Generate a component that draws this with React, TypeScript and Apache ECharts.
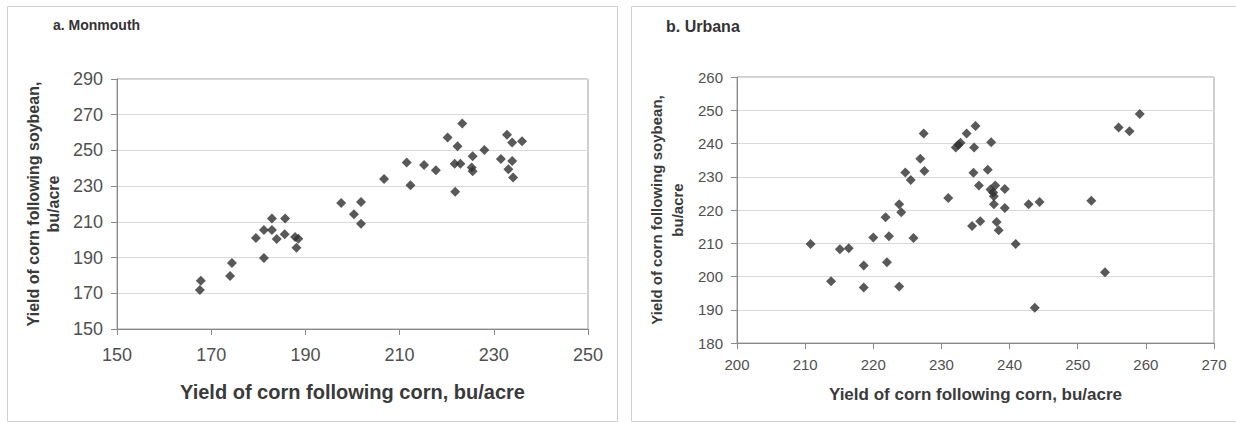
import React, { useEffect, useRef } from "react";
import * as echarts from "echarts";

// a. Monmouth
const monCornCorn = [167.6, 167.8, 174.0, 174.4, 179.5, 181.2, 181.2, 182.9, 182.9, 183.9, 185.6, 185.7, 187.8, 188.5, 188.1, 197.6, 200.3, 201.8, 201.8, 206.7, 211.5, 212.3, 215.2, 217.7, 220.2, 221.8, 221.7, 222.3, 222.9, 223.3, 225.5, 225.3, 225.5, 228.0, 231.5, 232.8, 233.1, 233.9, 233.9, 234.1, 236.0];
const monCornSoy = [171.8, 177.0, 179.7, 187.0, 201.0, 189.8, 205.4, 211.9, 205.4, 200.4, 203.0, 211.9, 201.5, 200.5, 195.5, 220.5, 214.2, 221.1, 209.0, 234.0, 243.2, 230.5, 241.8, 238.9, 257.3, 226.9, 242.5, 252.4, 242.5, 265.1, 246.8, 240.5, 238.3, 250.2, 245.2, 258.8, 239.5, 254.4, 244.1, 234.8, 255.2];

// b. Urbana
const urbCornCorn = [210.8, 213.8, 215.1, 216.4, 218.6, 218.6, 220.0, 221.8, 222.0, 222.3, 223.8, 224.1, 223.8, 224.7, 225.5, 225.9, 226.9, 227.4, 227.5, 231.0, 232.1, 232.5, 232.8, 233.7, 235.0, 234.8, 234.7, 234.5, 235.5, 235.7, 237.3, 236.8, 237.2, 237.6, 237.9, 237.7, 237.7, 238.1, 238.4, 239.3, 239.3, 240.9, 242.8, 244.4, 243.7, 252.0, 254.0, 256.0, 257.6, 259.1];
const urbCornSoy = [209.8, 198.6, 208.2, 208.5, 203.3, 196.7, 211.7, 217.8, 204.3, 212.1, 221.7, 219.3, 197.0, 231.3, 229.0, 211.6, 235.4, 243.0, 231.7, 223.6, 238.8, 239.6, 240.2, 243.0, 245.3, 238.8, 231.2, 215.2, 227.4, 216.6, 240.4, 232.1, 226.2, 225.3, 227.4, 224.1, 221.7, 216.4, 213.9, 226.3, 220.6, 209.8, 221.7, 222.4, 190.6, 222.8, 201.3, 244.8, 243.7, 248.9];

const monXTicks = { min: 150, max: 250, interval: 20 };
const monYTicks = { min: 150, max: 290, interval: 20 };
const urbXTicks = { min: 200, max: 270, interval: 10 };
const urbYTicks = { min: 180, max: 260, interval: 10 };

const panelTitles = ["a. Monmouth", "b. Urbana"];
const xTitle = "Yield of corn following corn, bu/acre";
const yTitle = "Yield of corn following soybean,\nbu/acre";

const FONT = "'Liberation Sans', Arial, Helvetica, sans-serif";

function axisCommon(color: string) {
  return {
    type: "value" as const,
    axisLine: { show: true, onZero: false, lineStyle: { color, width: 1 } },
    axisTick: { show: true, inside: false, length: 6, lineStyle: { color, width: 1 } },
    splitLine: { show: false },
  };
}

export default function App() {
  const ref = useRef<HTMLDivElement>(null);

  useEffect(() => {
    if (!ref.current) return;
    const chart = echarts.init(ref.current, undefined, { renderer: "svg" });
    const option = {
      animation: false,
      backgroundColor: "#ffffff",
      textStyle: { fontFamily: FONT },
      graphic: [
        {
          type: "rect",
          shape: { x: 7.5, y: 6.5, width: 610, height: 415 },
          style: { fill: "none", stroke: "#cfcfcf", lineWidth: 1 },
          silent: true,
        },
        {
          type: "rect",
          shape: { x: 631.5, y: 6.5, width: 620, height: 415 },
          style: { fill: "none", stroke: "#cfcfcf", lineWidth: 1 },
          silent: true,
        },
        {
          type: "text",
          x: 53,
          y: 25,
          style: {
            text: panelTitles[0],
            fontSize: 14,
            fontWeight: "bold",
            fontFamily: FONT,
            fill: "#333",
            verticalAlign: "middle",
          },
        },
        {
          type: "text",
          x: 666,
          y: 26,
          style: {
            text: panelTitles[1],
            fontSize: 16,
            fontWeight: "bold",
            fontFamily: FONT,
            fill: "#333",
            verticalAlign: "middle",
          },
        },
      ],
      grid: [
        {
          left: 117,
          top: 79,
          width: 471,
          height: 250,
          show: true,
          borderColor: "#a0a0a0",
          borderWidth: 1,
          backgroundColor: "#fff",
        },
        {
          left: 737,
          top: 77,
          width: 477,
          height: 266,
          show: true,
          borderColor: "#a0a0a0",
          borderWidth: 1,
          backgroundColor: "#fff",
        },
      ],
      xAxis: [
        {
          ...axisCommon("#8a8a8a"),
          gridIndex: 0,
          ...monXTicks,
          axisLabel: { fontSize: 18, color: "#505050", margin: 17, fontFamily: FONT },
          name: xTitle,
          nameLocation: "middle",
          nameGap: 53,
          nameTextStyle: { fontSize: 20, fontWeight: "bold", color: "#3a3a3a", fontFamily: FONT },
        },
        {
          ...axisCommon("#8a8a8a"),
          gridIndex: 1,
          ...urbXTicks,
          axisLabel: { fontSize: 15, color: "#505050", margin: 14, fontFamily: FONT },
          name: xTitle,
          nameLocation: "middle",
          nameGap: 43,
          nameTextStyle: { fontSize: 17, fontWeight: "bold", color: "#3a3a3a", fontFamily: FONT },
        },
      ],
      yAxis: [
        {
          ...axisCommon("#8a8a8a"),
          gridIndex: 0,
          ...monYTicks,
          splitLine: { show: true, lineStyle: { color: "#d9d9d9", width: 1 } },
          axisLabel: { fontSize: 18, color: "#505050", margin: 14, fontFamily: FONT },
          name: yTitle,
          nameLocation: "middle",
          nameRotate: 90,
          nameGap: 54,
          nameTextStyle: { fontSize: 16, fontWeight: "bold", color: "#3a3a3a", lineHeight: 20, fontFamily: FONT },
        },
        {
          ...axisCommon("#8a8a8a"),
          gridIndex: 1,
          ...urbYTicks,
          splitLine: { show: true, lineStyle: { color: "#d9d9d9", width: 1 } },
          axisLabel: { fontSize: 15, color: "#505050", margin: 14, fontFamily: FONT },
          name: yTitle,
          nameLocation: "middle",
          nameRotate: 90,
          nameGap: 49,
          nameTextStyle: { fontSize: 15, fontWeight: "bold", color: "#3a3a3a", lineHeight: 21, fontFamily: FONT },
        },
      ],
      series: [
        {
          type: "scatter",
          xAxisIndex: 0,
          yAxisIndex: 0,
          symbol: "diamond",
          symbolSize: 10,
          itemStyle: { color: "#2f2f2f" },
          data: monCornCorn.map((x, i) => [x, monCornSoy[i]]),
        },
        {
          type: "scatter",
          xAxisIndex: 1,
          yAxisIndex: 1,
          symbol: "diamond",
          symbolSize: 10,
          itemStyle: { color: "#2f2f2f" },
          data: urbCornCorn.map((x, i) => [x, urbCornSoy[i]]),
        },
      ],
    };
    chart.setOption(option as any);
    return () => {
      chart.dispose();
    };
  }, []);

  return (
    <div
      ref={ref}
      style={{ position: "fixed", left: 0, top: 0, width: 1236, height: 423, background: "#fff" }}
    />
  );
}
